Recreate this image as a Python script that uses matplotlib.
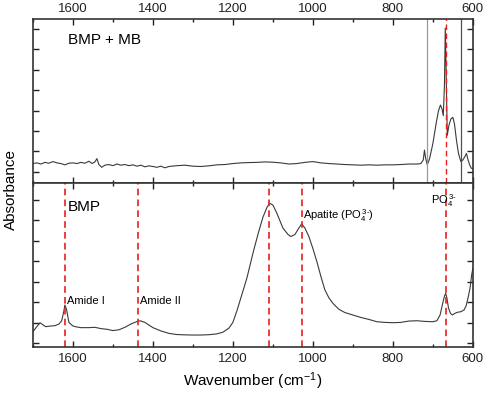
import numpy as np
import matplotlib.pyplot as plt
from matplotlib.ticker import MultipleLocator

plt.rcParams['font.family'] = ['Liberation Sans', 'DejaVu Sans']
plt.rcParams['mathtext.fontset'] = 'custom'
plt.rcParams['mathtext.rm'] = 'Liberation Sans'
plt.rcParams['mathtext.it'] = 'Liberation Sans'

# top spectrum: BMP + MB (normalised absorbance)
wn_top = [1700, 1690, 1680, 1670, 1660, 1650, 1640, 1630, 1620, 1610, 1600, 1590, 1580,
          1570, 1560, 1552, 1545, 1540, 1535, 1528, 1520, 1510, 1500, 1490, 1480, 1470,
          1460, 1450, 1440, 1430, 1420, 1410, 1400, 1390, 1380, 1370, 1360, 1340, 1320,
          1300, 1280, 1260, 1240, 1220, 1200, 1180, 1160, 1140, 1120, 1100, 1080, 1060,
          1040, 1020, 1000, 980, 960, 940, 920, 900, 880, 860, 840, 820, 800, 780, 760,
          740, 730, 724, 721, 718, 714, 708, 700, 692, 686, 681, 677, 674, 671, 669,
          667, 664, 660, 655, 650, 646, 641, 636, 630, 625, 620, 616, 612, 608, 604, 600]
abs_top = [0.118, 0.122, 0.115, 0.125, 0.120, 0.130, 0.122, 0.118, 0.110, 0.120, 0.122,
           0.118, 0.125, 0.120, 0.132, 0.118, 0.128, 0.148, 0.112, 0.095, 0.108, 0.112,
           0.105, 0.115, 0.108, 0.112, 0.105, 0.110, 0.102, 0.108, 0.098, 0.104, 0.100,
           0.095, 0.102, 0.092, 0.100, 0.105, 0.108, 0.102, 0.100, 0.104, 0.110, 0.112,
           0.118, 0.122, 0.124, 0.125, 0.128, 0.126, 0.122, 0.115, 0.118, 0.125, 0.130,
           0.122, 0.118, 0.115, 0.112, 0.110, 0.108, 0.110, 0.108, 0.110, 0.110, 0.112,
           0.115, 0.115, 0.118, 0.140, 0.200, 0.150, 0.110, 0.150, 0.240, 0.360, 0.440,
           0.475, 0.450, 0.410, 0.600, 0.945, 0.700, 0.290, 0.350, 0.390, 0.400, 0.360,
           0.260, 0.180, 0.130, 0.140, 0.160, 0.180, 0.140, 0.110, 0.090, 0.085]

# bottom spectrum: BMP
wn_bot = [1700, 1690, 1682, 1675, 1668, 1655, 1645, 1635, 1628, 1623, 1620, 1616, 1610,
          1600, 1590, 1580, 1560, 1545, 1530, 1515, 1500, 1485, 1470, 1455, 1440, 1432,
          1420, 1400, 1380, 1360, 1340, 1320, 1300, 1280, 1260, 1240, 1225, 1210, 1200,
          1190, 1180, 1165, 1150, 1137, 1125, 1115, 1108, 1100, 1090, 1075, 1062, 1055,
          1045, 1035, 1028, 1020, 1010, 1000, 990, 980, 970, 960, 950, 935, 920, 900, 880,
          860, 840, 820, 800, 780, 760, 740, 720, 700, 690, 682, 676, 671, 668, 665, 661,
          656, 651, 645, 638, 630, 622, 617, 612, 607, 603, 600]
abs_bot = [0.093, 0.125, 0.148, 0.135, 0.124, 0.128, 0.130, 0.140, 0.160, 0.215, 0.256,
           0.230, 0.150, 0.128, 0.122, 0.118, 0.118, 0.120, 0.112, 0.108, 0.100, 0.105,
           0.120, 0.140, 0.155, 0.160, 0.150, 0.118, 0.098, 0.083, 0.076, 0.074, 0.073,
           0.073, 0.075, 0.080, 0.090, 0.115, 0.150, 0.220, 0.300, 0.420, 0.570, 0.690,
           0.790, 0.850, 0.876, 0.865, 0.815, 0.725, 0.685, 0.673, 0.685, 0.725, 0.750,
           0.725, 0.673, 0.600, 0.520, 0.430, 0.348, 0.300, 0.266, 0.230, 0.210, 0.195,
           0.180, 0.168, 0.154, 0.150, 0.148, 0.150, 0.158, 0.160, 0.156, 0.154, 0.160,
           0.195, 0.260, 0.310, 0.327, 0.300, 0.238, 0.205, 0.195, 0.205, 0.212, 0.215,
           0.226, 0.250, 0.300, 0.360, 0.440, 0.480]

marker_top = [715, 630]
dash_top = [668]
dash_bot = [1620, 1437, 1110, 1028, 668]

fig = plt.figure(figsize=(4.84, 3.95), dpi=100)
ax1 = fig.add_axes([0.068, 0.537, 0.909, 0.415])
ax2 = fig.add_axes([0.068, 0.1215, 0.909, 0.4155])

line_col = '#3a3a3a'
red = '#e8201e'

ax1.plot(wn_top, abs_top, color=line_col, lw=0.8)
ax1.axvline(marker_top[0], color='#9a9a9a', lw=0.9)
ax1.axvline(marker_top[1], color='#505050', lw=0.9)
for w in dash_top:
    ax1.axvline(w, color=red, lw=1.0, ls=(0, (4, 2.5)))

ax2.plot(wn_bot, abs_bot, color=line_col, lw=0.8)
for w in dash_bot:
    ax2.axvline(w, color=red, lw=1.2, ls=(0, (4, 2.5)))

for ax, yt in [(ax1, np.arange(0.067, 1.0, 0.1245)), (ax2, np.arange(0.024, 1.0, 0.1245))]:
    ax.set_xlim(1700, 600)
    ax.set_ylim(0, 1)
    ax.set_yticks(yt)
    ax.set_yticklabels([])
    ax.xaxis.set_major_locator(MultipleLocator(200))
    ax.xaxis.set_minor_locator(MultipleLocator(100))
    ax.tick_params(which='both', direction='in', top=True, right=True, width=1.0,
                   labelsize=9.5, colors='#222222')
    ax.tick_params(which='major', length=4)
    ax.tick_params(which='minor', length=2.5)
    for s in ax.spines.values():
        s.set_linewidth(1.2)
        s.set_color('#333333')

ax1.tick_params(axis='x', labelbottom=False, labeltop=True, pad=3)
ax2.tick_params(axis='x', pad=4)

ax1.text(1612, 0.85, 'BMP + MB', fontsize=11)
ax2.text(1612, 0.83, 'BMP', fontsize=11)
ax2.text(1616, 0.265, 'Amide I', fontsize=8)
ax2.text(1433, 0.265, 'Amide II', fontsize=8)
ax2.text(1024, 0.78, r'Apatite (PO$_4^{\,3\text{-}}$)', fontsize=8)
ax2.text(705, 0.87, r'PO$_4^{\,3\text{-}}$', fontsize=8)

ax2.set_xlabel(r'Wavenumber (cm$^{-1}$)', fontsize=11, labelpad=4)
fig.text(0.022, 0.52, 'Absorbance', rotation=90, va='center', ha='center', fontsize=11)

fig.savefig('out.png', dpi=100)
